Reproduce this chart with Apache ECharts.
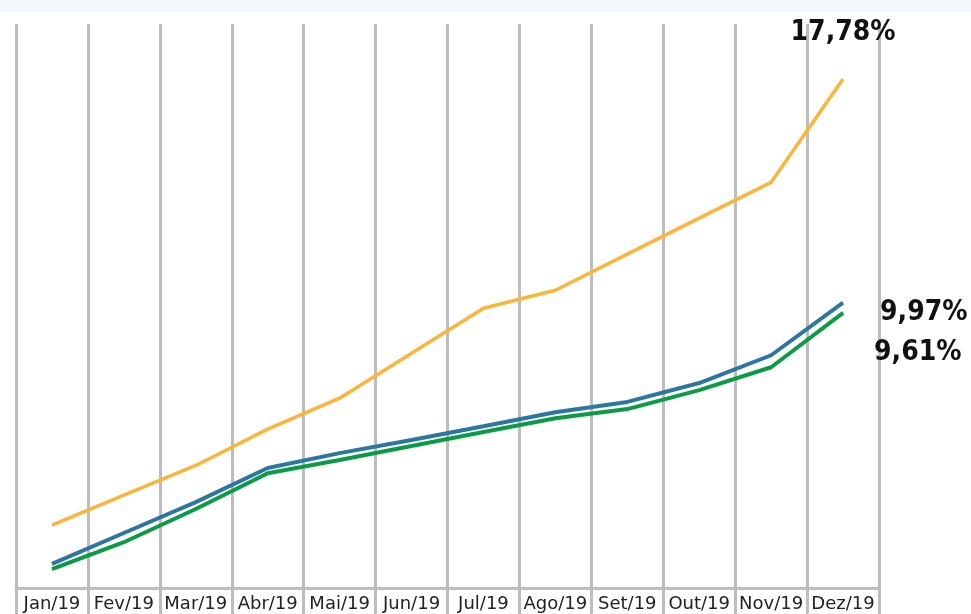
<!DOCTYPE html>
<html>
<head>
<meta charset="utf-8">
<script src="https://cdn.jsdelivr.net/npm/echarts@6/dist/echarts.min.js"></script>
<style>
  html, body { margin: 0; padding: 0; background: #ffffff; }
  #chart { width: 971px; height: 614px; }
</style>
</head>
<body>
<div id="chart"></div>
<script>
const months = ["Jan/19", "Fev/19", "Mar/19", "Abr/19", "Mai/19", "Jun/19",
  "Jul/19", "Ago/19", "Set/19", "Out/19", "Nov/19", "Dez/19"];
const orangeValues = [2.20, 3.24, 4.28, 5.55, 6.63, 8.20, 9.77, 10.40, 11.66, 12.92, 14.17, 17.78];
const blueValues = [0.84, 1.92, 3.00, 4.19, 4.71, 5.17, 5.65, 6.14, 6.50, 7.16, 8.13, 9.97];
const greenValues = [0.66, 1.60, 2.76, 4.01, 4.47, 4.96, 5.45, 5.93, 6.25, 6.91, 7.71, 9.61];

const gridGray = "#bdbdbd";

function pct(params) {
  return params.value.toFixed(2).replace(".", ",") + "%";
}

function endLabel(opts) {
  return Object.assign({
    show: true,
    formatter: pct,
    fontFamily: "DejaVu Sans Condensed, DejaVu Sans",
    fontWeight: "bold",
    fontSize: 28,
    color: "#111111"
  }, opts);
}

let chart = echarts.init(document.getElementById("chart"));

chart.setOption({
  animation: false,
  backgroundColor: "#ffffff",
  graphic: [
    {
      type: "rect",
      left: 0,
      top: 0,
      shape: { width: 971, height: 12 },
      style: { fill: "#f1f8fc" },
      silent: true
    }
  ],
  grid: {
    left: 16,
    right: 92,
    top: 24,
    bottom: 26
  },
  xAxis: {
    type: "category",
    data: months,
    boundaryGap: true,
    axisLine: { show: true, lineStyle: { color: gridGray, width: 3 } },
    axisTick: { show: true, length: 27, lineStyle: { color: gridGray, width: 3 } },
    axisLabel: {
      interval: 0,
      margin: 7,
      fontFamily: "DejaVu Sans",
      fontSize: 18,
      color: "#222222"
    },
    splitLine: { show: true, lineStyle: { color: gridGray, width: 3 } }
  },
  yAxis: {
    type: "value",
    min: 0,
    max: 19.7,
    axisLine: { show: false },
    axisTick: { show: false },
    axisLabel: { show: false },
    splitLine: { show: false }
  },
  series: [
    {
      name: "orange",
      type: "line",
      data: orangeValues,
      symbol: "none",
      lineStyle: { color: "#fcb439", width: 3.5 },
      itemStyle: { color: "#fcb439" },
      endLabel: endLabel({ align: "center", verticalAlign: "middle", distance: 0, offset: [0, -46] })
    },
    {
      name: "green",
      type: "line",
      data: greenValues,
      symbol: "none",
      lineStyle: { color: "#0b9b45", width: 4 },
      itemStyle: { color: "#0b9b45" },
      endLabel: endLabel({ align: "left", verticalAlign: "middle", distance: 0, offset: [31, 40] })
    },
    {
      name: "blue",
      type: "line",
      data: blueValues,
      symbol: "none",
      lineStyle: { color: "#2d76a1", width: 4 },
      itemStyle: { color: "#2d76a1" },
      endLabel: endLabel({ align: "left", verticalAlign: "middle", distance: 0, offset: [37, 10] })
    }
  ]
});
</script>
</body>
</html>
